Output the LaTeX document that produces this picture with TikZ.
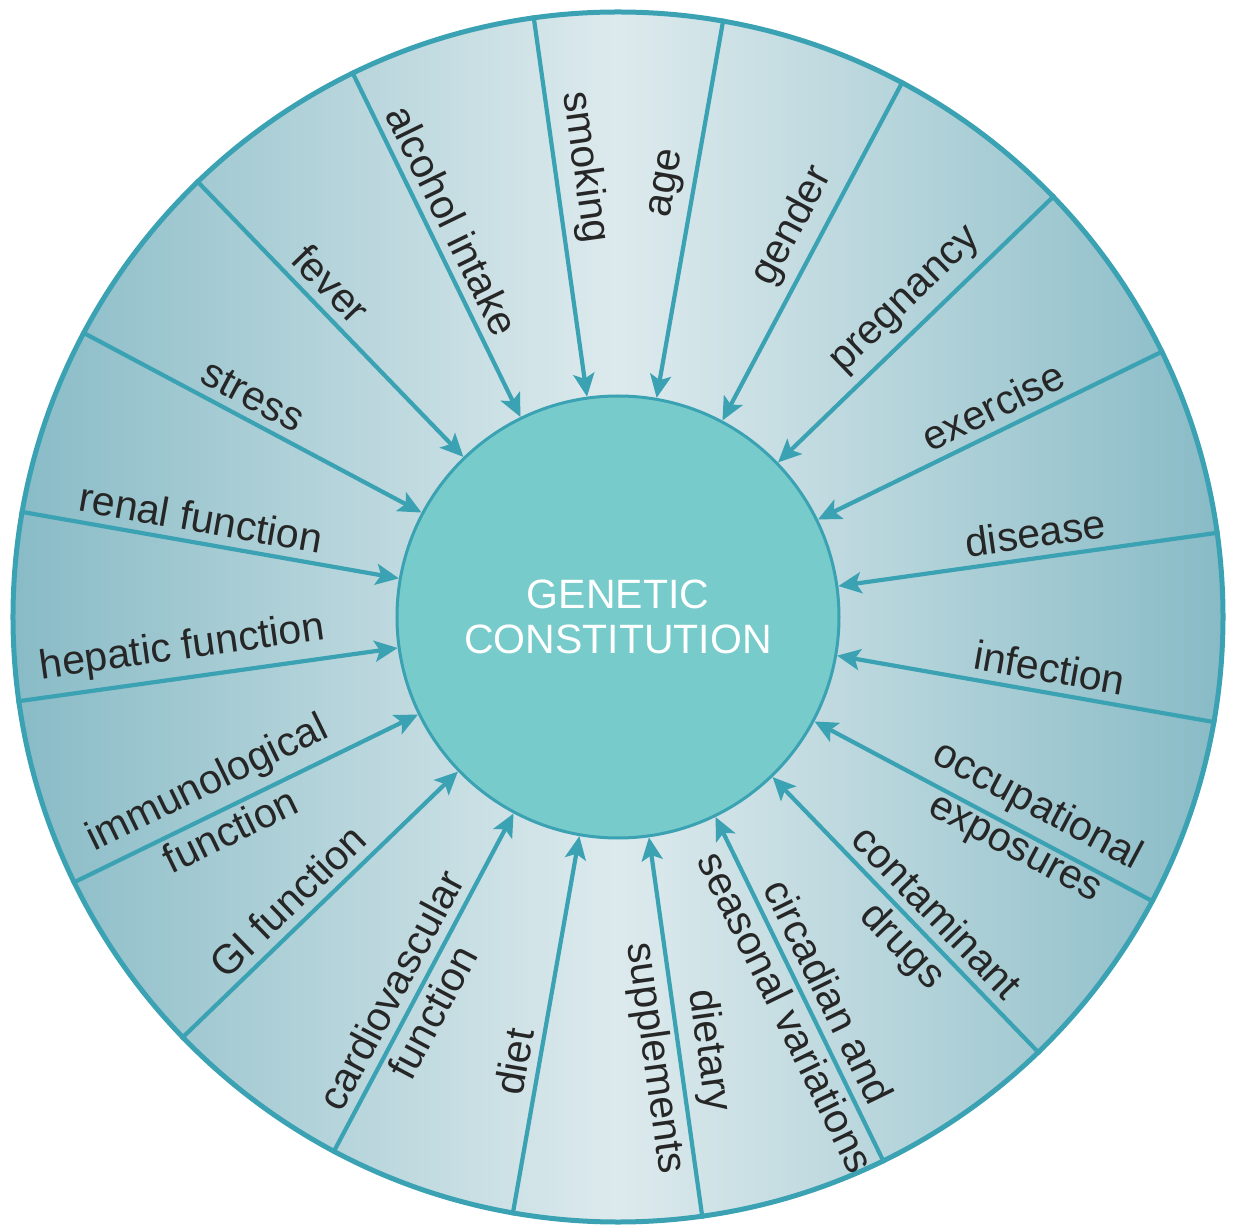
\documentclass[tikz,border=0pt]{standalone}
\usepackage{fontspec}
\setmainfont{Liberation Sans}
\usetikzlibrary{arrows.meta}
\definecolor{linec}{HTML}{3AA2B2}
\definecolor{corefill}{HTML}{77CBCB}
\definecolor{edgec}{HTML}{88BBC6}
\definecolor{midc}{HTML}{DDEAED}
\definecolor{txt}{HTML}{262626}
\begin{document}
\begin{tikzpicture}[x=1pt,y=1pt,
  lab/.style={font=\fontsize{41}{48}\selectfont, text=txt, inner xsep=0pt, inner ysep=10pt, anchor=south},
  labtwo/.style={font=\fontsize{41}{48}\selectfont, text=txt, inner xsep=0pt, inner ysep=6pt, anchor=north},
  spoke/.style={draw=linec, line width=4.2pt, -{Stealth[length=23pt,width=21pt,inset=5pt]}},
]
\useasboundingbox (-618,-608) rectangle (615,617);
\node[circle, minimum size=1210pt, inner sep=0pt, draw=linec, line width=5pt,
      left color=edgec, right color=edgec, middle color=midc] (ring) at (0,0) {};
\node[circle, minimum size=442pt, inner sep=0pt, draw=linec, line width=3pt, fill=corefill,
      text=white, align=center, font=\fontsize{41}{45}\selectfont] (core) at (0,0) {GENETIC\\CONSTITUTION};
\foreach \a [count=\i] in {8,26,...,350}{
  \coordinate (o\i) at (ring.\a);
  \draw[spoke] (o\i) -- (core);
}
\node[lab, rotate=8] (l1) at (8:425) {disease};
\node[lab, rotate=26] (l2) at (26:429) {exercise};
\node[lab, rotate=44] (l3) at (44:427) {pregnancy};
\node[lab, rotate=62] (l4) at (62:427) {gender};
\node[lab, rotate=80] (l5) at (80:436) {age};
\node[lab, rotate=-82] (l6) at (98:450) {smoking};
\node[lab, rotate=-64] (l7) at (116:429) {alcohol intake};
\node[lab, rotate=-46] (l8) at (134:439) {fever};
\node[lab, rotate=-28] (l9) at (152:426) {stress};
\node[lab, rotate=-10] (l10) at (170:428) {renal function};
\node[lab, rotate=8] (l11) at (188:436) {hepatic function};
\node[lab, rotate=26] (l12a) at (206:442) {immunological};
\node[labtwo, rotate=26] (l12b) at (206:442) {function};
\node[lab, rotate=44] (l13) at (224:435) {GI function};
\node[lab, rotate=62] (l14a) at (242:436) {cardiovascular};
\node[labtwo, rotate=62] (l14b) at (242:436) {function};
\node[lab, rotate=80] (l15) at (260:456) {diet};
\node[lab, rotate=-82] (l16a) at (278:442) {dietary};
\node[labtwo, rotate=-82] (l16b) at (278:442) {supplements};
\node[lab, rotate=-64] (l17a) at (296:429) {circadian and};
\node[labtwo, rotate=-64] (l17b) at (296:429) {seasonal variations};
\node[lab, rotate=-46] (l18a) at (314:434) {contaminant};
\node[labtwo, rotate=-46] (l18b) at (314:434) {drugs};
\node[lab, rotate=-28] (l19a) at (332:459) {occupational};
\node[labtwo, rotate=-28] (l19b) at (332:459) {exposures};
\node[lab, rotate=-10] (l20) at (350:434) {infection};
\end{tikzpicture}
\end{document}
